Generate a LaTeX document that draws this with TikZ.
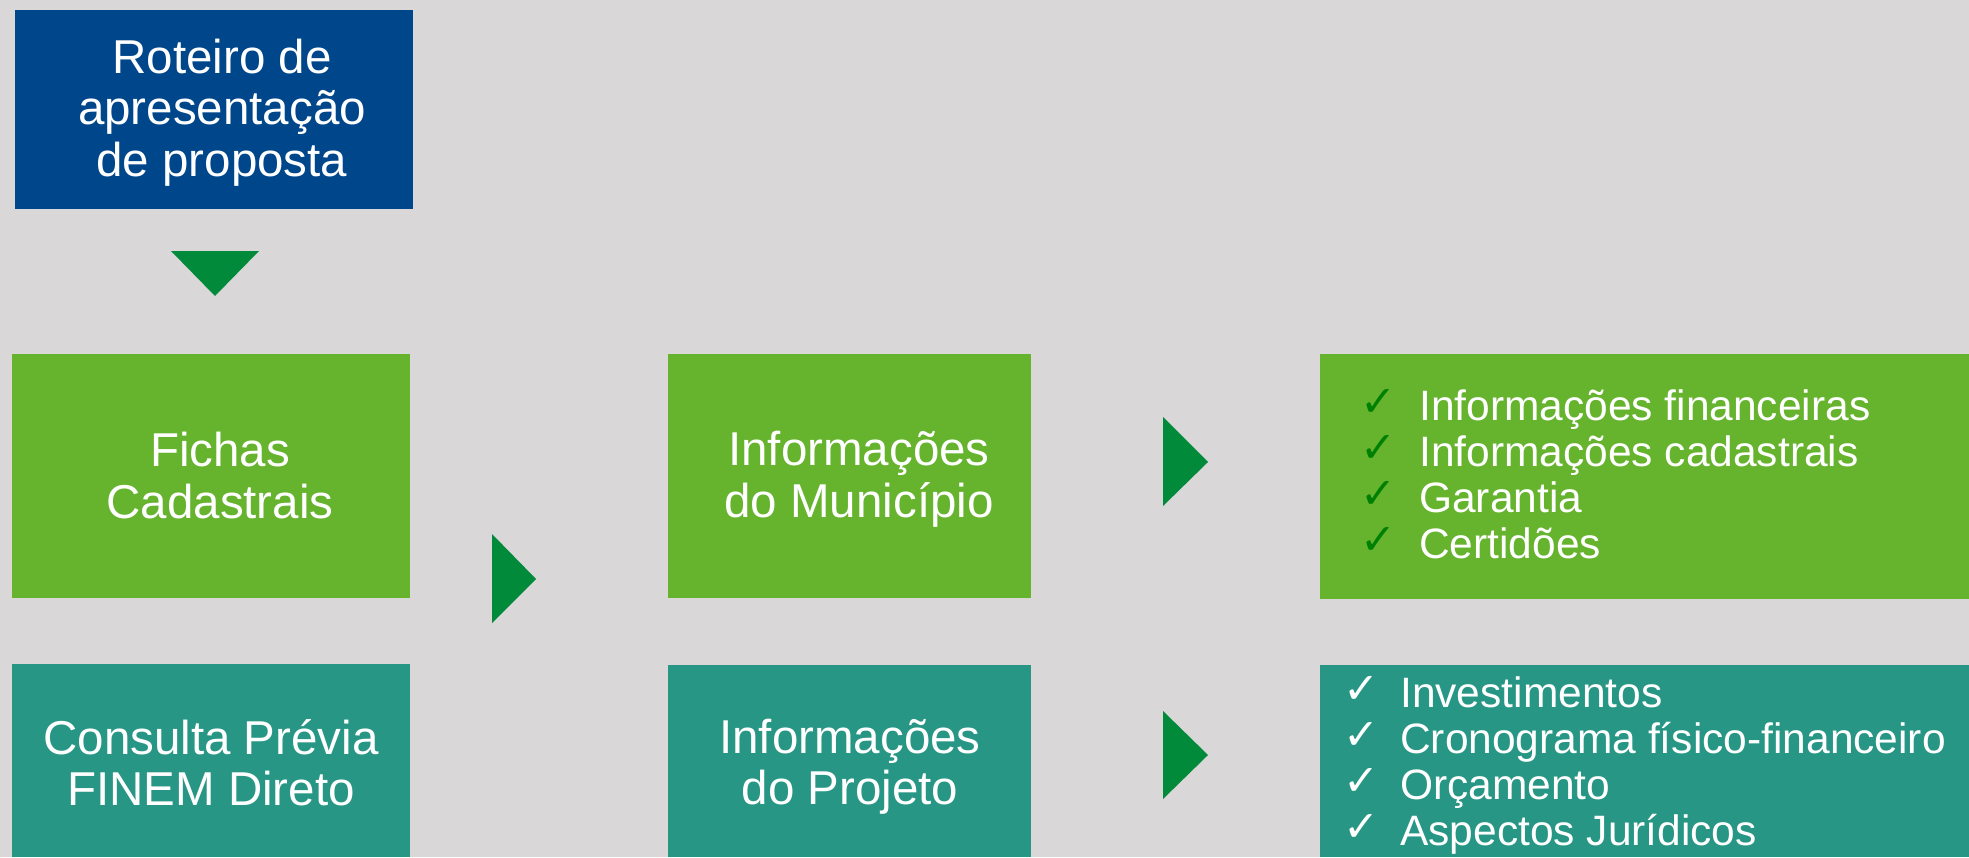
\documentclass[tikz,border=0pt]{standalone}
\usepackage{fontspec}
\setmainfont{Liberation Sans}
\newfontfamily\symfont{DejaVu Sans}
\definecolor{bgc}{RGB}{217,215,216}
\definecolor{bluec}{RGB}{0,70,139}
\definecolor{lgreen}{RGB}{102,179,46}
\definecolor{tealc}{RGB}{39,150,133}
\definecolor{trig}{RGB}{0,138,58}
\definecolor{checkg}{RGB}{0,128,0}
\tikzset{
  box/.style={rectangle, inner sep=0pt, outer sep=0pt, anchor=north west},
  bigtxt/.style={text=white, align=center, inner sep=0pt, font=\fontsize{47.5}{51.5}\selectfont},
  listtxt/.style={text=white, align=left, inner sep=0pt, anchor=west, font=\fontsize{42.5}{46}\selectfont},
  chev/.style={fill=trig, draw=none}
}
\newcommand{\chk}[2]{\makebox[#1][l]{\raisebox{4pt}{\symfont\fontsize{43}{43}\selectfont\textcolor{#2}{✓}}}}
\begin{document}
\begin{tikzpicture}[x=1pt, y=-1pt]
\useasboundingbox (0,0) rectangle (1969,857);
\fill[bgc] (0,0) rectangle (1969,857);
% boxes
\node[box, fill=bluec, minimum width=398pt, minimum height=199pt] (roteiro) at (15,10) {};
\node[box, fill=lgreen, minimum width=398pt, minimum height=244pt] (fichas) at (12,354) {};
\node[box, fill=tealc, minimum width=398pt, minimum height=193pt] (consulta) at (12,664) {};
\node[box, fill=lgreen, minimum width=363pt, minimum height=244pt] (infmun) at (668,354) {};
\node[box, fill=tealc, minimum width=363pt, minimum height=192pt] (infproj) at (668,665) {};
\node[box, fill=lgreen, minimum width=649pt, minimum height=245pt] (list1) at (1320,354) {};
\node[box, fill=tealc, minimum width=649pt, minimum height=192pt] (list2) at (1320,665) {};
% texts
\node[bigtxt] (troteiro) at (222,112.5) {Roteiro de\\apresentação\\de proposta};
\node[bigtxt] (tfichas) at (220,475.3) {Fichas\\Cadastrais};
\node[bigtxt] (tconsulta) at (211,762.5) {Consulta Prévia\\FINEM Direto};
\node[bigtxt] (tinfmun) at (859,479) {Informações\\do Município};
\node[bigtxt] (tinfproj) at (850,766.8) {Informações\\do Projeto};
\node[listtxt] (tlist1) at (1360,474.5) {\chk{59pt}{checkg}Informações financeiras\\\chk{59pt}{checkg}Informações cadastrais\\\chk{59pt}{checkg}Garantia\\\chk{59pt}{checkg}Certidões};
\node[listtxt] (tlist2) at (1343,765.5) {\chk{57pt}{white}Investimentos\\\chk{57pt}{white}Cronograma físico-financeiro\\\chk{57pt}{white}Orçamento\\\chk{57pt}{white}Aspectos Jurídicos};
% chevrons
\fill[chev] (171,251) -- (259,251) -- (215,296) -- cycle;
\fill[chev] (492,534) -- (536,579) -- (492,623) -- cycle;
\fill[chev] (1163,417) -- (1208,462) -- (1163,506) -- cycle;
\fill[chev] (1163,711) -- (1208,755) -- (1163,799) -- cycle;
\end{tikzpicture}
\end{document}
